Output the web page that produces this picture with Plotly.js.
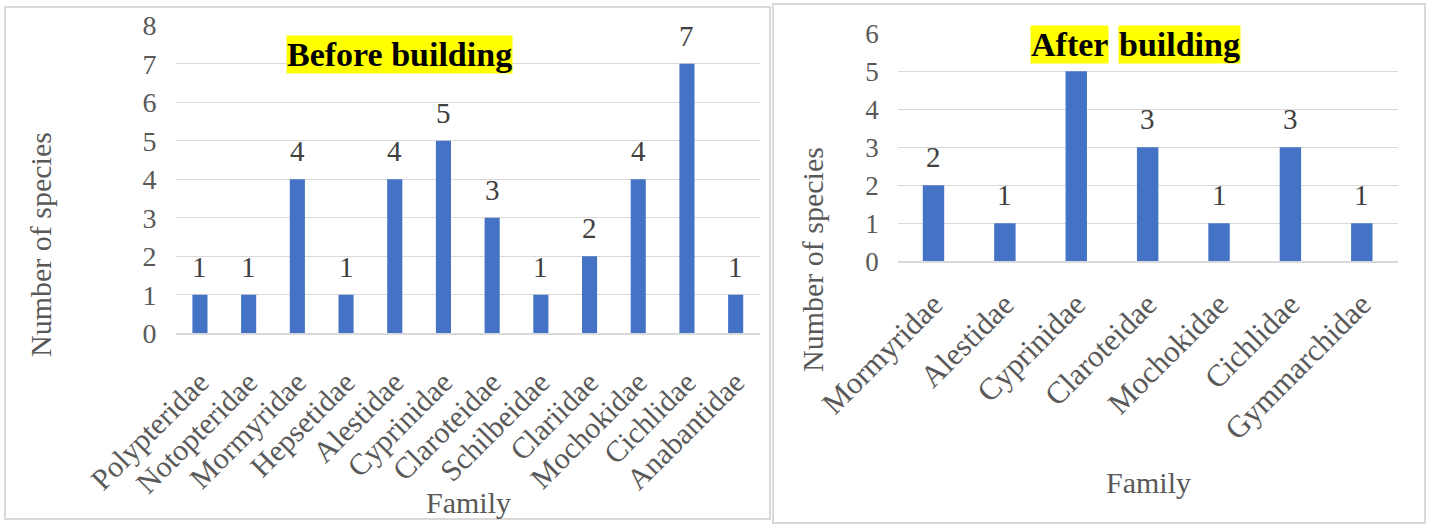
<!DOCTYPE html>
<html>
<head>
<meta charset="utf-8">
<script src="https://cdn.plot.ly/plotly-3.0.1.min.js"></script>
<style>html,body{margin:0;padding:0;background:#fff;}</style>
</head>
<body>
<div id="chart" style="width:1429px;height:524px;"></div>
<script>
const beforeFamilies = ['Polypteridae','Notopteridae','Mormyridae','Hepsetidae','Alestidae','Cyprinidae','Claroteidae','Schilbeidae','Clariidae','Mochokidae','Cichlidae','Anabantidae'];
const beforeCounts = [1,1,4,1,4,5,3,1,2,4,7,1];
const afterFamilies = ['Mormyridae','Alestidae','Cyprinidae','Claroteidae','Mochokidae','Cichlidae','Gymmarchidae'];
const afterCounts = [2,1,5,3,1,3,1];
const beforeTicks = [0,1,2,3,4,5,6,7,8];
const afterTicks = [0,1,2,3,4,5,6];
const beforeTitle = 'Before building';
const afterTitleWords = ['After','building'];
const yTitle = 'Number of species';
const xTitle = 'Family';

const W = 1429, H = 524;
const px = x => x / W;
const py = y => 1 - y / H;
const serif = 'Liberation Serif';
const tickGray = '#595959';
const labelGray = '#404040';
const grid = '#d9d9d9';
const blue = '#4472c4';

const traces = [
  {type:'bar', x: beforeFamilies, y: beforeCounts, xaxis:'x', yaxis:'y', width:0.31,
   marker:{color: blue}, hoverinfo:'none'},
  {type:'bar', x: afterFamilies, y: afterCounts, xaxis:'x2', yaxis:'y2', width:0.30,
   marker:{color: blue}, hoverinfo:'none'}
];

const annotations = [];
beforeFamilies.forEach((f,i) => annotations.push({
  x: f, y: beforeCounts[i], xref:'x', yref:'y', text: String(beforeCounts[i]),
  showarrow:false, xanchor:'center', yanchor:'bottom', yshift:10,
  font:{family:serif, size:29, color:labelGray}
}));
afterFamilies.forEach((f,i) => annotations.push({
  x: f, y: afterCounts[i], xref:'x2', yref:'y2', text: String(afterCounts[i]),
  showarrow:false, xanchor:'center', yanchor:'bottom', yshift:10,
  font:{family:serif, size:29, color:labelGray}
}));
function paperText(x, y, text, opts) {
  return Object.assign({x:px(x), y:py(y), xref:'paper', yref:'paper', text:text, showarrow:false,
    xanchor:'center', yanchor:'middle'}, opts);
}
// titles
annotations.push(paperText(400, 54, '<b>'+beforeTitle+'</b>',
  {bgcolor:'#ffff00', borderpad:0, font:{family:serif, size:34, color:'#000'}}));
annotations.push(paperText(1069, 44, '<b>'+afterTitleWords[0]+'</b>',
  {bgcolor:'#ffff00', borderpad:0, font:{family:serif, size:34, color:'#000'}}));
annotations.push(paperText(1179, 44, '<b>'+afterTitleWords[1]+'</b>',
  {bgcolor:'#ffff00', borderpad:0, font:{family:serif, size:34, color:'#000'}}));
// axis titles
annotations.push(paperText(40, 245, yTitle, {textangle:-90, font:{family:serif, size:30, color:tickGray}}));
annotations.push(paperText(812, 260, yTitle, {textangle:-90, font:{family:serif, size:30, color:tickGray}}));
annotations.push(paperText(468, 502, xTitle, {font:{family:serif, size:30, color:tickGray}}));
annotations.push(paperText(1148, 482, xTitle, {font:{family:serif, size:30, color:tickGray}}));

const shapes = [
  {type:'rect', xref:'paper', yref:'paper', x0:px(5), x1:px(770), y0:py(519), y1:py(7),
   line:{color:grid, width:2}},
  {type:'rect', xref:'paper', yref:'paper', x0:px(773), x1:px(1425), y0:py(523), y1:py(4),
   line:{color:grid, width:2}}
];

const xCommon = {type:'category', showgrid:false, showline:true, linecolor:grid, linewidth:1.5,
  tickangle:-45, ticks:'', zeroline:false, fixedrange:true};
const yCommon = {showgrid:true, gridcolor:grid, gridwidth:1.3, showline:false, zeroline:false, ticks:'',
  tickmode:'array', ticklabelstandoff:18, tickfont:{family:serif, size:28, color:tickGray}, fixedrange:true};

const layout = {
  width:W, height:H, margin:{l:0,r:0,t:0,b:0}, paper_bgcolor:'#fff', plot_bgcolor:'rgba(0,0,0,0)',
  showlegend:false, font:{family:serif},
  xaxis: Object.assign({}, xCommon, {domain:[px(175.6), px(760)], anchor:'y',
    ticklabelstandoff:18, tickfont:{family:serif, size:30, color:tickGray}}),
  yaxis: Object.assign({}, yCommon, {domain:[py(333.3), py(25.3)], anchor:'x', range:[0,8],
    tickvals: beforeTicks, ticktext: beforeTicks.map(String)}),
  xaxis2: Object.assign({}, xCommon, {domain:[px(897.8), px(1397.5)], anchor:'y2',
    ticklabelstandoff:11, tickfont:{family:serif, size:31, color:tickGray}}),
  yaxis2: Object.assign({}, yCommon, {domain:[py(261.3), py(33.3)], anchor:'x2', range:[0,6],
    tickvals: afterTicks, ticktext: afterTicks.map(String), tickfont:{family:serif, size:27, color:tickGray}}),
  annotations: annotations,
  shapes: shapes
};

Plotly.newPlot('chart', traces, layout, {displayModeBar:false, staticPlot:true});
</script>
</body>
</html>
